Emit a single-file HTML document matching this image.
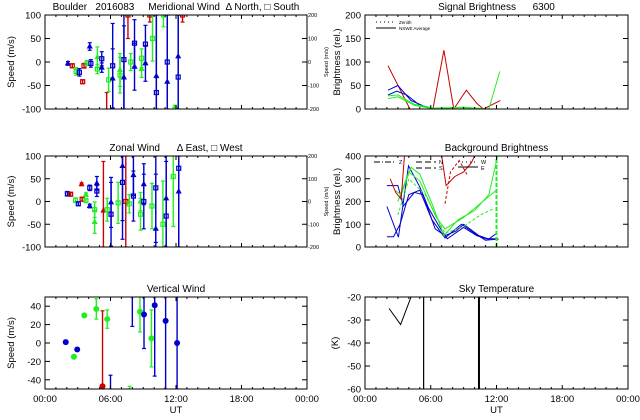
<!DOCTYPE html>
<html><head><meta charset="utf-8"><style>
html,body{margin:0;padding:0;background:#fff;overflow:hidden;}
svg{display:block;font-family:"Liberation Sans",sans-serif;}
text{white-space:pre;}
</style></head><body>
<svg id="chart" width="640" height="420" viewBox="0 0 640 420" xmlns="http://www.w3.org/2000/svg"></svg>
<script>
// ---- Meridional wind data (hours UT, m/s, error, color, symbol) ----
const merT = [2.1,2.5,2.85,3.15,3.45,3.57,3.85,4.1,4.2,4.8,4.8,5.2,5.2,5.65,5.83,6.2,6.2,6.87,6.87,7.23,7.23,7.6,7.85,8.2,8.2,8.85,8.85,9.2,9.2,9.6,9.85,10.85,10.2,10.2,11.2,11.2,11.9,12.2,12.2,12.6];
const merV = [-3,-8,-20,-22,-42,-8,-2,33,-3,10,-15,7,-12,-110,-38,-8,-35,-28,-17,5,-33,100,0,40,-10,8,-15,38,-3,100,50,100,-65,-30,0,-42,-100,-32,12,100];
const merE = [4,4,8,8,4,5,5,8,8,22,10,15,10,45,25,90,63,38,35,120,110,50,18,50,50,20,18,40,38,15,48,25,200,200,200,200,8,200,200,15];
const merC = ['b','r','g','b','r','r','g','b','b','g','g','b','b','r','g','b','b','g','g','b','b','r','g','b','b','g','g','b','b','r','g','g','b','b','b','b','g','b','b','r'];
const merS = ['t','s','s','s','s','s','s','t','s','t','s','s','t','s','s','s','t','s','t','s','t','s','s','s','t','s','t','s','t','s','s','s','s','t','s','t','s','s','t','s'];
// ---- Zonal wind data ----
const zonT = [2.05,2.35,2.8,3.05,3.35,3.4,3.75,3.75,4.1,4.1,4.75,4.75,4.55,4.55,5.35,5.7,6.05,6.05,6.7,7.1,7.1,7.4,7.72,8.1,8.1,8.75,8.75,9.05,9.05,9.8,10.15,10.15,10.8,11.1,11.1,11.75,12.25,12.25];
const zonV = [17,16,3,-5,38,5,2,15,30,-10,40,23,-18,-45,-20,-18,-2,-28,-3,42,78,0,-5,12,58,-28,0,0,38,-10,30,-60,-50,-32,7,55,73,22];
const zonE = [5,4,5,4,3,4,4,4,6,4,15,12,17,25,108,25,55,70,45,125,120,150,20,55,45,35,20,60,45,50,120,120,95,120,120,110,200,200];
const zonC = ['b','r','g','b','r','r','g','g','b','b','b','b','g','g','r','g','b','b','g','b','b','r','g','b','b','g','g','b','b','g','b','b','g','b','b','g','b','b'];
const zonS = ['s','s','s','s','t','s','s','t','s','t','t','s','s','t','t','s','t','s','s','s','t','s','s','s','t','s','t','s','t','s','s','t','s','s','t','s','s','t'];
// ---- Vertical wind data ----
const verT = [1.9,2.65,2.95,3.6,4.7,5.7,5.27,6.0,7.75,8.0,8.7,9.07,9.75,10.05,11.05,12.1];
const verV = [1,-15,-7,30,37,26,-47,-60,-55,60,34,31,5,41,24,0];
const verE = [2,2,2,2,11,10,82,25,8,42,22,37,31,77,80,200];
const verC = ['b','g','b','g','g','g','r','b','g','b','g','b','g','b','b','b'];
// ---- Signal brightness lines ----
const sigRed1T=[2.1,4.1], sigRed1V=[92,0];
const sigRed2T=[6.2,7.2,8.1,9.25,10.2,10.8,12.35], sigRed2V=[0,125,0,40,12,0,18];
const sigBlue1T=[2.1,3.0,4.2,5.5,6.5,11.5], sigBlue1V=[40,50,18,5,0,0];
const sigBlue2T=[2.1,2.9,3.8,5.0,6.5,11.5], sigBlue2V=[30,38,30,8,0,0];
const sigGreen1T=[2.1,3.0,4.5,6.3,8.0,10.0,11.3,12.3], sigGreen1V=[28,30,10,2,3,2,0,80];
const sigGreen2T=[2.1,3.0,4.5,6.3,9.0,11.0], sigGreen2V=[22,26,8,0,4,0];
// ---- Background brightness lines ----
const bgBlue1T=[2.0,3.05,3.97,5.0,5.8,6.9,7.5,9.0,10.2,11.1,12.0], bgBlue1V=[178,43,357,264,171,79,36,86,50,36,36];
const bgBlue2T=[2.0,3.0,3.5,4.5,5.3,6.4,7.3,8.3,9.0,10.4,11.3,12.0], bgBlue2V=[270,270,180,240,230,80,50,70,100,50,35,60];
const bgBlue3T=[2.0,2.6,3.2,4.0,5.0,6.1,7.3,8.8,10.0,11.0,12.2], bgBlue3V=[45,45,100,230,250,120,40,100,60,30,35];
const bgGreen1T=[2.7,3.3,4.2,5.0,6.2,7.2,8.5,10.0,11.3,12.1], bgGreen1V=[250,230,350,320,180,50,120,160,230,400];
const bgGreen2T=[3.0,4.0,5.0,6.5,7.3,9.0,10.5,12.0], bgGreen2V=[200,330,290,130,80,130,190,250];
const bgGreen3T=[3.0,4.0,5.5,7.3,9.0,10.5,11.8], bgGreen3V=[140,300,230,60,90,140,170];
const bgRed1T=[2.3,2.8,3.3,3.6], bgRed1V=[300,240,210,400];
const bgRed2T=[7.0,7.4,8.2,9.0,9.7,10.0], bgRed2V=[400,270,310,330,370,400];
const bgRed3T=[7.3,7.8,8.6,9.3], bgRed3V=[190,330,380,320];
// ---- Sky temperature ----
const skyT=[2.2,3.25,4.2], skyV=[-25,-32,-20];
const skyBarsT=[5.35,10.4];
const xTickLabels=['00:00','06:00','12:00','18:00','00:00'];

const COL={r:'#cc0000',g:'#22ee22',b:'#0000cc'};
const svg=document.getElementById('chart');
const NS='http://www.w3.org/2000/svg';
function mk(tag,attrs,parent){const e=document.createElementNS(NS,tag);for(const k in attrs)e.setAttribute(k,attrs[k]);(parent||svg).appendChild(e);return e;}
let clipId=0;
function panel(name,x0,x1,y0,y1,ymin,ymax,ticks,title,opts){
  const g=mk('g',{});
  
  
  const P={x:t=>x0+(t/24)*(x1-x0),y:v=>y1-(v-ymin)/(ymax-ymin)*(y1-y0)};
  P.cy=y=>Math.max(y0,Math.min(y1,y));
  const cid='c'+(clipId++);
  const cp=mk('clipPath',{id:cid},g);mk('rect',{x:x0,y:y0,width:x1-x0,height:y1-y0},cp);
  P.plot=mk('g',{'clip-path':'url(#'+cid+')'},g);
  mk('rect',{x:x0,y:y0,width:x1-x0,height:y1-y0,fill:'none',stroke:'#000','stroke-width':1},g);
  ticks.forEach(v=>{const y=P.y(v);
    mk('line',{x1:x0,x2:x0+5,y1:y,y2:y,stroke:'#000'},g);
    mk('line',{x1:x1,x2:x1-5,y1:y,y2:y,stroke:'#000'},g);
    const t=mk('text',{x:x0-4,y:y+3.5,'font-size':9.5,'text-anchor':'end'},g);t.textContent=v;});
  for(let h=0;h<=24;h+=6){const x=P.x(h);
    mk('line',{x1:x,x2:x,y1:y1,y2:y1-4,stroke:'#000'},g);mk('line',{x1:x,x2:x,y1:y0,y2:y0+4,stroke:'#000'},g);}
  for(let h=1;h<24;h++){if(h%6){const x=P.x(h);mk('line',{x1:x,x2:x,y1:y1,y2:y1-2,stroke:'#000'},g);mk('line',{x1:x,x2:x,y1:y0,y2:y0+2,stroke:'#000'},g);}}
  const tt=mk('text',{x:(x0+x1)/2,y:y0-5,'font-size':10,'text-anchor':'middle'},g);tt.textContent=title;
  
  const yl=mk('text',{x:0,y:0,'font-size':9.5,'text-anchor':'middle',transform:`translate(${x0-(opts.ylx||31)},${(y0+y1)/2}) rotate(-90)`},g);yl.textContent=opts.ylabel;
  
  if(opts.right){opts.right.forEach((v,i)=>{const y=P.y(ticks[i]);const t=mk('text',{x:x1+1,y:y+2,'font-size':5.5},g);t.textContent=v;});
    const r=mk('text',{x:0,y:0,'font-size':5.5,'text-anchor':'middle',transform:`translate(${x1+21},${(y0+y1)/2}) rotate(-90)`},g);r.textContent='Speed (m/s)';}
  if(opts.xlabels){xTickLabels.forEach((s,i)=>{const t=mk('text',{x:P.x(i*6),y:y1+13,'font-size':9.5,'text-anchor':'middle'},g);t.textContent=s;});
    const u=mk('text',{x:(x0+x1)/2,y:y1+24,'font-size':9.5,'text-anchor':'middle'},g);u.textContent='UT';
    }
  return P;
}
function errPoints(P,T,V,E,C,S,name){
  T.forEach((t,i)=>{const x=P.x(t),y=P.y(V[i]),c=COL[C[i]];
    const g=mk('g',{},P.plot);
    
    
    const ya=P.cy(P.y(V[i]+E[i])),yb=P.cy(P.y(V[i]-E[i]));
    mk('line',{x1:x,x2:x,y1:ya,y2:yb,stroke:c,'stroke-width':1.4},g);
    mk('line',{x1:x-2,x2:x+2,y1:ya,y2:ya,stroke:c,'stroke-width':1.2},g);
    mk('line',{x1:x-2,x2:x+2,y1:yb,y2:yb,stroke:c,'stroke-width':1.2},g);
    if(y<P.cy(y)-3||y>P.cy(y)+3)return;
    if(S==='o'){mk('circle',{cx:x,cy:y,r:3,fill:c},g);}
    else if(S[i]==='s'){mk('rect',{x:x-2,y:y-2,width:4,height:4,fill:'none',stroke:c,'stroke-width':1.2},g);}
    else{mk('polygon',{points:`${x},${y-2.5} ${x-2.2},${y+1.5} ${x+2.2},${y+1.5}`,fill:c,stroke:c},g);}
  });
}
function line(P,T,V,c,name,dash,w){
  const p=mk('polyline',{points:T.map((t,i)=>P.x(t)+','+P.cy(P.y(V[i]))).join(' '),fill:'none',stroke:c,'stroke-width':w||1,'stroke-dasharray':dash||''},P.plot);
  
  
}

const P1=panel('meridional-wind-panel',45,307,15,109,-100,100,[100,50,0,-50,-100],'Boulder   2016083     Meridional Wind  \u0394 North, \u25A1 South',{ylabel:'Speed (m/s)',right:['200','100','0','-100','-200']});
errPoints(P1,merT,merV,merE,merC,merS,'meridional');
const P2=panel('zonal-wind-panel',45,307,156,247,-100,100,[100,50,0,-50,-100],'Zonal Wind      \u0394 East, \u25A1 West',{ylabel:'Speed (m/s)',right:['200','100','0','-100','-200']});
errPoints(P2,zonT,zonV,zonE,zonC,zonS,'zonal');
const P3=panel('vertical-wind-panel',45,307,297,389,-50,50,[40,20,0,-20,-40],'Vertical Wind',{ylabel:'Speed (m/s)',xlabels:true});
errPoints(P3,verT,verV,verE,verC,'o','vertical');

const R1=panel('signal-brightness-panel',365,628,15,109,0,200,[200,150,100,50,0],'Signal Brightness      6300',{ylabel:'Brightness (rel.)',ylx:25});
line(R1,sigRed1T,sigRed1V,COL.r,'signal-red-1');line(R1,sigRed2T,sigRed2V,COL.r,'signal-red-2');
line(R1,sigBlue1T,sigBlue1V,COL.b,'signal-blue-1');line(R1,sigBlue2T,sigBlue2V,COL.b,'signal-blue-2');
line(R1,sigGreen1T,sigGreen1V,COL.g,'signal-green-1');line(R1,sigGreen2T,sigGreen2V,COL.g,'signal-green-2');
const lg=mk('g',{});
mk('line',{x1:376,x2:396,y1:22,y2:22,stroke:'#000','stroke-dasharray':'1,3'},lg);
mk('line',{x1:376,x2:396,y1:28,y2:28,stroke:'#000'},lg);
let lt=mk('text',{x:399,y:24,'font-size':4.5},lg);lt.textContent='Zenith';
lt=mk('text',{x:399,y:30,'font-size':4.5},lg);lt.textContent='NSWE Average';

const R2=panel('background-brightness-panel',365,628,156,247,0,400,[400,300,200,100,0],'Background Brightness',{ylabel:'Brightness (rel.)',ylx:25});
line(R2,bgBlue1T,bgBlue1V,COL.b,'bg-blue-1');line(R2,bgBlue2T,bgBlue2V,COL.b,'bg-blue-2');line(R2,bgBlue3T,bgBlue3V,COL.b,'bg-blue-3');
line(R2,bgGreen1T,bgGreen1V,COL.g,'bg-green-1');line(R2,bgGreen2T,bgGreen2V,COL.g,'bg-green-2');line(R2,bgGreen3T,bgGreen3V,COL.g,'bg-green-3','3,2');
line(R2,bgRed1T,bgRed1V,COL.r,'bg-red-1');line(R2,bgRed2T,bgRed2V,COL.r,'bg-red-2');line(R2,bgRed3T,bgRed3V,COL.r,'bg-red-3','3,2');
line(R2,[12.0,12.0],[0,400],COL.g,'bg-green-vertical','4,2',2);
const bl=mk('g',{});
mk('line',{x1:374,x2:396,y1:162,y2:162,stroke:'#000','stroke-dasharray':'6,2,1,2'},bl);
mk('line',{x1:416,x2:436,y1:162,y2:162,stroke:'#000','stroke-dasharray':'6,3'},bl);
mk('line',{x1:416,x2:436,y1:168,y2:168,stroke:'#000','stroke-dasharray':'6,3'},bl);
mk('line',{x1:458,x2:478,y1:162,y2:162,stroke:'#000','stroke-dasharray':'1,3'},bl);
mk('line',{x1:458,x2:478,y1:167,y2:167,stroke:'#000'},bl);
[['Z',399,164],['N',439,164],['S',439,170],['W',481,164],['E',481,170]].forEach(a=>{const t=mk('text',{x:a[1],y:a[2],'font-size':5.5},bl);t.textContent=a[0];});

const R3=panel('sky-temperature-panel',365,628,297,389,-60,-20,[-20,-30,-40,-50,-60],'Sky Temperature',{ylabel:'(K)',xlabels:true,ylx:27});
line(R3,skyT,skyV,'#000','sky-temp-line');
skyBarsT.forEach((t,i)=>{line(R3,[t,t],[-60,-20],'#000','sky-temp-bar',null,i?2:1.2);});
</script>
</body></html>
